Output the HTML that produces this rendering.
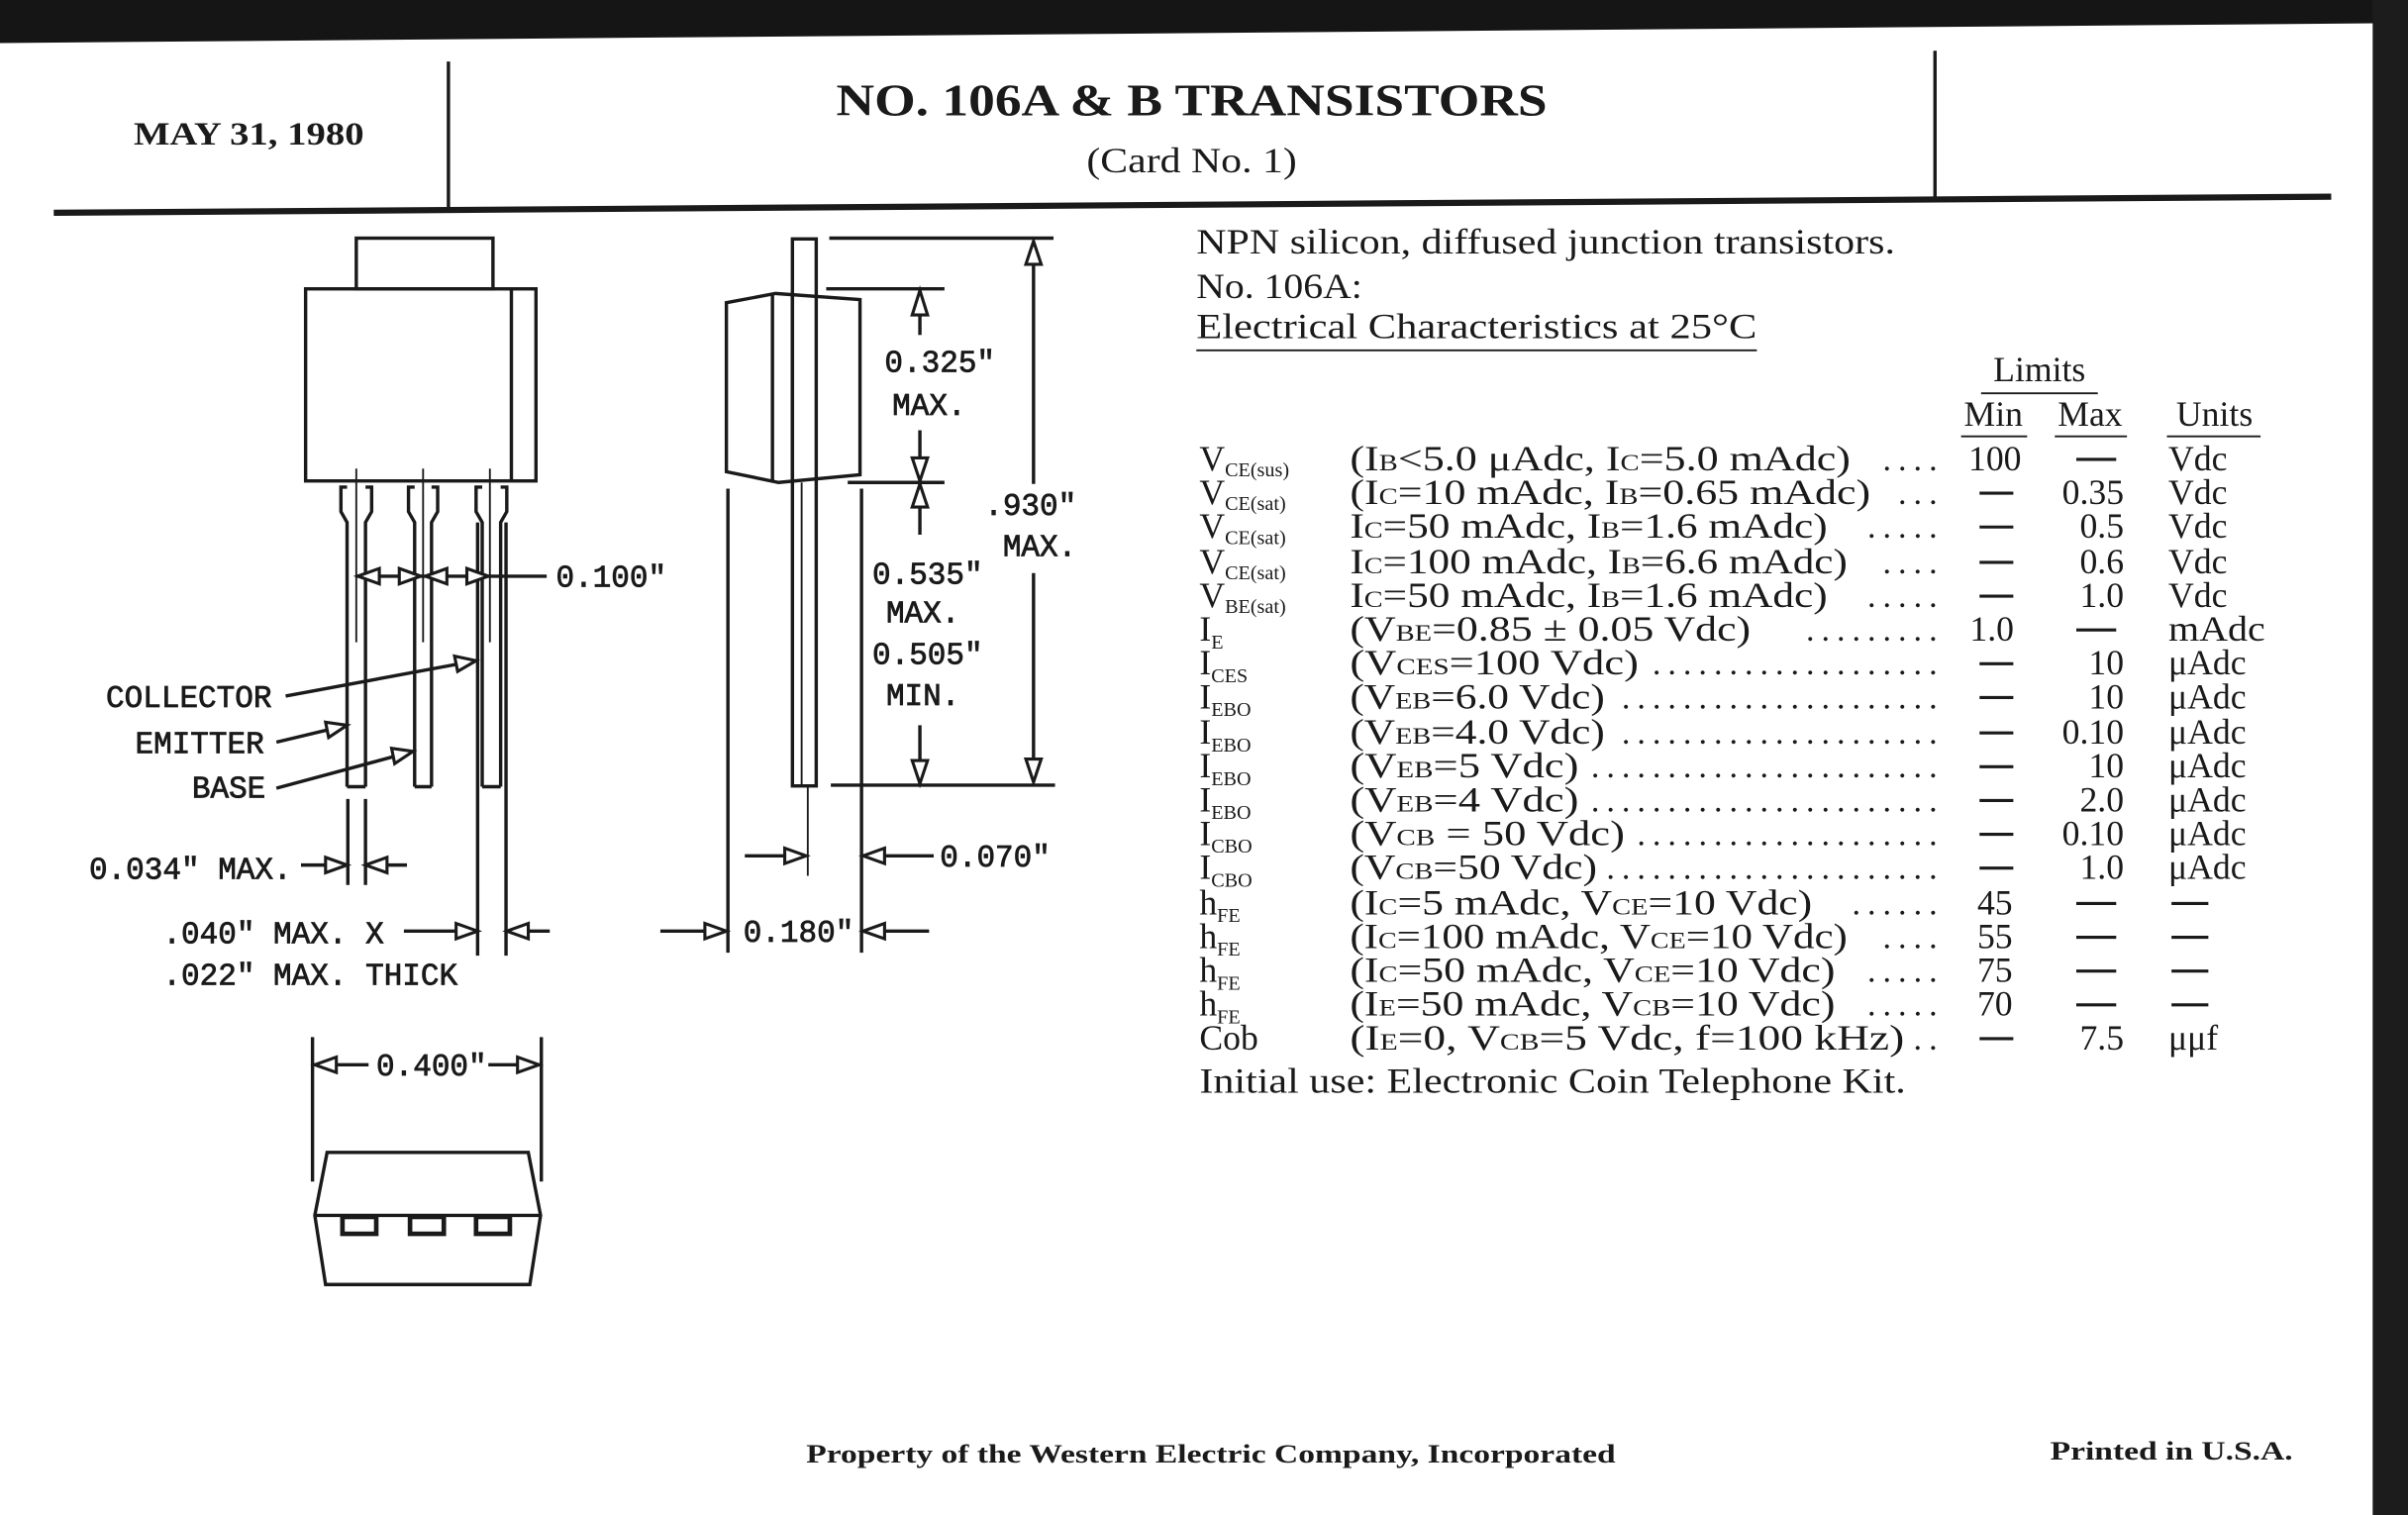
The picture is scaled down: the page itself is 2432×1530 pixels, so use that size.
<!DOCTYPE html>
<html><head><meta charset="utf-8"><style>
html,body{margin:0;padding:0;background:#fff;}
svg{display:block;}
.t{font-family:"Liberation Serif",serif;font-size:23px;fill:#1a1a1a;}
.s{font-size:13px;}
.sc{font-size:15px;}
.d{font-family:"Liberation Serif",serif;font-size:22px;letter-spacing:4.5px;fill:#1a1a1a;}
.m{font-family:"Liberation Mono",monospace;font-size:20px;fill:#1a1a1a;stroke:#1a1a1a;stroke-width:0.5;}
.b{font-family:"Liberation Serif",serif;font-weight:bold;fill:#1a1a1a;}
.ln{stroke:#1a1a1a;stroke-width:2.2;fill:none;}
.th{stroke:#1a1a1a;stroke-width:1.2;fill:none;}
.ar{fill:#fff;stroke:#1a1a1a;stroke-width:2;}
</style></head><body>
<svg width="2432" height="1530" viewBox="0 0 1568 986" preserveAspectRatio="none" xmlns="http://www.w3.org/2000/svg">
<rect width="1568" height="986" fill="#fff"/>
<polygon points="0,0 1568,0 1568,15 0,28" fill="#151515"/>
<rect x="1545" y="0" width="23" height="986" fill="#1c1c1c"/>
<line x1="292" y1="40" x2="292" y2="136" class="ln"/>
<line x1="1260" y1="33" x2="1260" y2="128" class="ln"/>
<line x1="35" y1="138.5" x2="1518" y2="128" stroke="#1a1a1a" stroke-width="4"/>
<text x="162" y="94" class="b" font-size="21" text-anchor="middle" textLength="150" lengthAdjust="spacingAndGlyphs">MAY 31, 1980</text>
<text x="776" y="75" class="b" font-size="29" text-anchor="middle" textLength="463" lengthAdjust="spacingAndGlyphs">NO. 106A &amp; B TRANSISTORS</text>
<text x="776" y="112" class="t" font-size="21" text-anchor="middle" textLength="137" lengthAdjust="spacingAndGlyphs">(Card No. 1)</text>

<rect x="232" y="155" width="89" height="33" class="ln"/>
<rect x="199" y="188" width="150" height="125" class="ln"/>
<line x1="333" y1="188" x2="333" y2="313" class="ln"/>
<path d="M226,512 V340 L222,333 V317 H226 M238,512 V340 L242,333 V317 H238 M226,512 H238" class="ln"/>
<line x1="232" y1="305" x2="232" y2="418" class="th"/>
<path d="M270,512 V340 L266,333 V317 H270 M281,512 V340 L285,333 V317 H281 M270,512 H281" class="ln"/>
<line x1="275.5" y1="305" x2="275.5" y2="418" class="th"/>
<path d="M314,512 V340 L310,333 V317 H314 M326,512 V340 L330,333 V317 H326 M314,512 H326" class="ln"/>
<line x1="319" y1="305" x2="319" y2="418" class="th"/>
<line x1="311" y1="340" x2="311" y2="622" class="ln"/>
<line x1="329.5" y1="340" x2="329.5" y2="622" class="ln"/>
<line x1="232" y1="375" x2="356" y2="375" class="ln"/>
<polygon points="233,375 247,370 247,380" class="ar"/>
<polygon points="274,375 260,370 260,380" class="ar"/>
<polygon points="277,375 291,370 291,380" class="ar"/>
<polygon points="318,375 304,370 304,380" class="ar"/>
<text x="362" y="382" class="m">0.100"</text>
<text x="69" y="460" class="m">COLLECTOR</text>
<text x="88" y="490" class="m">EMITTER</text>
<text x="125" y="519" class="m">BASE</text>
<line x1="186" y1="453" x2="310" y2="430" class="ln"/>
<polygon points="310,430 296,427 298,437" class="ar"/>
<line x1="180" y1="483" x2="226" y2="472" class="ln"/>
<polygon points="226,472 212,470 214,480" class="ar"/>
<line x1="180" y1="513" x2="269" y2="489" class="ln"/>
<polygon points="269,489 255,487 257,497" class="ar"/>
<line x1="226.5" y1="520" x2="226.5" y2="576" class="ln"/>
<line x1="238" y1="520" x2="238" y2="576" class="ln"/>
<text x="58" y="572" class="m">0.034" MAX.</text>
<line x1="196" y1="563" x2="226" y2="563" class="ln"/>
<polygon points="226,563 212,558 212,568" class="ar"/>
<line x1="238" y1="563" x2="265" y2="563" class="ln"/>
<polygon points="238,563 252,558 252,568" class="ar"/>
<text x="106" y="614" class="m">.040" MAX. X</text>
<text x="106" y="641" class="m">.022" MAX. THICK</text>
<line x1="263" y1="606" x2="311" y2="606" class="ln"/>
<polygon points="311,606 297,601 297,611" class="ar"/>
<line x1="329.5" y1="606" x2="358" y2="606" class="ln"/>
<polygon points="330,606 344,601 344,611" class="ar"/>
<line x1="203.5" y1="675" x2="203.5" y2="769" class="ln"/>
<line x1="352.5" y1="675" x2="352.5" y2="769" class="ln"/>
<line x1="204" y1="693" x2="240" y2="693" class="ln"/>
<line x1="318" y1="693" x2="352" y2="693" class="ln"/>
<polygon points="205,693 219,688 219,698" class="ar"/>
<polygon points="351,693 337,688 337,698" class="ar"/>
<text x="245" y="700" class="m">0.400"</text>
<polygon points="213,750 344,750 352,791 345,836 212,836 205,791" class="ln"/>
<line x1="205" y1="791" x2="352" y2="791" class="ln"/>
<rect x="223" y="792" width="22" height="11" fill="none" stroke="#1a1a1a" stroke-width="3"/>
<rect x="267" y="792" width="22" height="11" fill="none" stroke="#1a1a1a" stroke-width="3"/>
<rect x="310" y="792" width="22" height="11" fill="none" stroke="#1a1a1a" stroke-width="3"/>

<rect x="516" y="155.5" width="15.5" height="356" class="ln" fill="#fff"/>
<polygon points="473,197 505,191 560,195 560,309 507,314 473,307" class="ln" fill="#fff"/>
<line x1="503" y1="192" x2="503" y2="313" class="ln"/>
<line x1="516" y1="192" x2="516" y2="313" class="ln"/>
<line x1="522" y1="314" x2="522" y2="511" class="th"/>
<line x1="526" y1="511" x2="526" y2="570" class="th"/>
<line x1="540" y1="155" x2="686" y2="155" class="ln"/>
<line x1="538" y1="188" x2="615" y2="188" class="ln"/>
<line x1="552" y1="314" x2="615" y2="314" class="ln"/>
<line x1="541" y1="511" x2="687" y2="511" class="ln"/>
<line x1="599" y1="189" x2="599" y2="218" class="ln"/>
<polygon points="599,189 594,205 604,205" class="ar"/>
<text x="612" y="242" class="m" text-anchor="middle">0.325"</text>
<text x="605" y="270" class="m" text-anchor="middle">MAX.</text>
<line x1="599" y1="280" x2="599" y2="348" class="ln"/>
<polygon points="599,313 594,298 604,298" class="ar"/>
<polygon points="599,315 594,330 604,330" class="ar"/>
<text x="604" y="380" class="m" text-anchor="middle">0.535"</text>
<text x="601" y="405" class="m" text-anchor="middle">MAX.</text>
<text x="604" y="432" class="m" text-anchor="middle">0.505"</text>
<text x="601" y="459" class="m" text-anchor="middle">MIN.</text>
<line x1="599" y1="472" x2="599" y2="510" class="ln"/>
<polygon points="599,510 594,495 604,495" class="ar"/>
<line x1="673" y1="157" x2="673" y2="315" class="ln"/>
<line x1="673" y1="373" x2="673" y2="509" class="ln"/>
<polygon points="673,157 668,172 678,172" class="ar"/>
<polygon points="673,509 668,494 678,494" class="ar"/>
<text x="671" y="335" class="m" text-anchor="middle">.930"</text>
<text x="677" y="362" class="m" text-anchor="middle">MAX.</text>
<line x1="474" y1="318" x2="474" y2="620" class="ln"/>
<line x1="561" y1="318" x2="561" y2="620" class="ln"/>
<line x1="485" y1="557" x2="525" y2="557" class="ln"/>
<polygon points="525,557 511,552 511,562" class="ar"/>
<line x1="562" y1="557" x2="608" y2="557" class="ln"/>
<polygon points="562,557 576,552 576,562" class="ar"/>
<text x="612" y="564" class="m">0.070"</text>
<line x1="430" y1="606" x2="473" y2="606" class="ln"/>
<polygon points="473,606 459,601 459,611" class="ar"/>
<line x1="562" y1="606" x2="605" y2="606" class="ln"/>
<polygon points="562,606 576,601 576,611" class="ar"/>
<text x="484" y="613" class="m">0.180"</text>

<text x="779" y="165" class="t" textLength="455" lengthAdjust="spacingAndGlyphs">NPN silicon, diffused junction transistors.</text>
<text x="779" y="194" class="t" textLength="108" lengthAdjust="spacingAndGlyphs">No. 106A:</text>
<text x="779" y="220" class="t" textLength="365" lengthAdjust="spacingAndGlyphs">Electrical Characteristics at 25°C</text>
<line x1="779" y1="228" x2="1144" y2="228" class="th" stroke-width="1.6"/>
<text x="1328" y="248" class="t" text-anchor="middle">Limits</text>
<line x1="1290" y1="256" x2="1366" y2="256" class="th" stroke-width="1.6"/>
<text x="1298" y="277" class="t" text-anchor="middle">Min</text>
<text x="1361" y="277" class="t" text-anchor="middle">Max</text>
<text x="1442" y="277" class="t" text-anchor="middle">Units</text>
<line x1="1277" y1="284" x2="1320" y2="284" class="th" stroke-width="1.6"/>
<line x1="1338" y1="284" x2="1385" y2="284" class="th" stroke-width="1.6"/>
<line x1="1411" y1="284" x2="1472" y2="284" class="th" stroke-width="1.6"/>

<g class="t">
<text x="781" y="306">V<tspan class="s" dy="4">CE(sus)</tspan></text>
<text x="781" y="328">V<tspan class="s" dy="4">CE(sat)</tspan></text>
<text x="781" y="350">V<tspan class="s" dy="4">CE(sat)</tspan></text>
<text x="781" y="373">V<tspan class="s" dy="4">CE(sat)</tspan></text>
<text x="781" y="395">V<tspan class="s" dy="4">BE(sat)</tspan></text>
<text x="781" y="417">I<tspan class="s" dy="5">E</tspan></text>
<text x="781" y="439">I<tspan class="s" dy="5">CES</tspan></text>
<text x="781" y="461">I<tspan class="s" dy="5">EBO</tspan></text>
<text x="781" y="484">I<tspan class="s" dy="5">EBO</tspan></text>
<text x="781" y="506">I<tspan class="s" dy="5">EBO</tspan></text>
<text x="781" y="528">I<tspan class="s" dy="5">EBO</tspan></text>
<text x="781" y="550">I<tspan class="s" dy="5">CBO</tspan></text>
<text x="781" y="572">I<tspan class="s" dy="5">CBO</tspan></text>
<text x="781" y="595">h<tspan class="s" dy="5">FE</tspan></text>
<text x="781" y="617">h<tspan class="s" dy="5">FE</tspan></text>
<text x="781" y="639">h<tspan class="s" dy="5">FE</tspan></text>
<text x="781" y="661">h<tspan class="s" dy="5">FE</tspan></text>
<text x="781" y="683">Cob</text>
</g>
<g class="t">
<text x="879" y="306" textLength="326" lengthAdjust="spacingAndGlyphs">(I<tspan class="sc">B</tspan>&lt;5.0 μAdc, I<tspan class="sc">C</tspan>=5.0 mAdc)</text>
<text x="879" y="328" textLength="339" lengthAdjust="spacingAndGlyphs">(I<tspan class="sc">C</tspan>=10 mAdc, I<tspan class="sc">B</tspan>=0.65 mAdc)</text>
<text x="879" y="350" textLength="311" lengthAdjust="spacingAndGlyphs">I<tspan class="sc">C</tspan>=50 mAdc, I<tspan class="sc">B</tspan>=1.6 mAdc)</text>
<text x="879" y="373" textLength="324" lengthAdjust="spacingAndGlyphs">I<tspan class="sc">C</tspan>=100 mAdc, I<tspan class="sc">B</tspan>=6.6 mAdc)</text>
<text x="879" y="395" textLength="311" lengthAdjust="spacingAndGlyphs">I<tspan class="sc">C</tspan>=50 mAdc, I<tspan class="sc">B</tspan>=1.6 mAdc)</text>
<text x="879" y="417" textLength="261" lengthAdjust="spacingAndGlyphs">(V<tspan class="sc">BE</tspan>=0.85 ± 0.05 Vdc)</text>
<text x="879" y="439" textLength="188" lengthAdjust="spacingAndGlyphs">(V<tspan class="sc">CES</tspan>=100 Vdc)</text>
<text x="879" y="461" textLength="166" lengthAdjust="spacingAndGlyphs">(V<tspan class="sc">EB</tspan>=6.0 Vdc)</text>
<text x="879" y="484" textLength="166" lengthAdjust="spacingAndGlyphs">(V<tspan class="sc">EB</tspan>=4.0 Vdc)</text>
<text x="879" y="506" textLength="149" lengthAdjust="spacingAndGlyphs">(V<tspan class="sc">EB</tspan>=5  Vdc)</text>
<text x="879" y="528" textLength="149" lengthAdjust="spacingAndGlyphs">(V<tspan class="sc">EB</tspan>=4  Vdc)</text>
<text x="879" y="550" textLength="179" lengthAdjust="spacingAndGlyphs">(V<tspan class="sc">CB</tspan> = 50 Vdc)</text>
<text x="879" y="572" textLength="161" lengthAdjust="spacingAndGlyphs">(V<tspan class="sc">CB</tspan>=50  Vdc)</text>
<text x="879" y="595" textLength="301" lengthAdjust="spacingAndGlyphs">(I<tspan class="sc">C</tspan>=5 mAdc, V<tspan class="sc">CE</tspan>=10 Vdc)</text>
<text x="879" y="617" textLength="324" lengthAdjust="spacingAndGlyphs">(I<tspan class="sc">C</tspan>=100 mAdc, V<tspan class="sc">CE</tspan>=10 Vdc)</text>
<text x="879" y="639" textLength="316" lengthAdjust="spacingAndGlyphs">(I<tspan class="sc">C</tspan>=50 mAdc, V<tspan class="sc">CE</tspan>=10 Vdc)</text>
<text x="879" y="661" textLength="316" lengthAdjust="spacingAndGlyphs">(I<tspan class="sc">E</tspan>=50 mAdc, V<tspan class="sc">CB</tspan>=10 Vdc)</text>
<text x="879" y="683" textLength="361" lengthAdjust="spacingAndGlyphs">(I<tspan class="sc">E</tspan>=0, V<tspan class="sc">CB</tspan>=5 Vdc, f=100 kHz)</text>
</g>
<g class="d" text-anchor="end">
<text x="1266" y="306">....</text>
<text x="1266" y="328">...</text>
<text x="1266" y="350">.....</text>
<text x="1266" y="373">....</text>
<text x="1266" y="395">.....</text>
<text x="1266" y="417">.........</text>
<text x="1266" y="439">...................</text>
<text x="1266" y="461">.....................</text>
<text x="1266" y="484">.....................</text>
<text x="1266" y="506">.......................</text>
<text x="1266" y="528">.......................</text>
<text x="1266" y="550">....................</text>
<text x="1266" y="572">......................</text>
<text x="1266" y="595">......</text>
<text x="1266" y="617">....</text>
<text x="1266" y="639">.....</text>
<text x="1266" y="661">.....</text>
<text x="1266" y="683">..</text>
</g>
<g class="t" text-anchor="middle">
<text x="1299" y="306">100</text>
<text x="1297" y="417">1.0</text>
<text x="1299" y="595">45</text>
<text x="1299" y="617">55</text>
<text x="1299" y="639">75</text>
<text x="1299" y="661">70</text>
</g>
<g stroke="#1a1a1a" stroke-width="2">
<line x1="1289" y1="321" x2="1311" y2="321"/>
<line x1="1289" y1="343" x2="1311" y2="343"/>
<line x1="1289" y1="366" x2="1311" y2="366"/>
<line x1="1289" y1="388" x2="1311" y2="388"/>
<line x1="1289" y1="432" x2="1311" y2="432"/>
<line x1="1289" y1="454" x2="1311" y2="454"/>
<line x1="1289" y1="477" x2="1311" y2="477"/>
<line x1="1289" y1="499" x2="1311" y2="499"/>
<line x1="1289" y1="521" x2="1311" y2="521"/>
<line x1="1289" y1="543" x2="1311" y2="543"/>
<line x1="1289" y1="565" x2="1311" y2="565"/>
<line x1="1289" y1="676" x2="1311" y2="676"/>
<line x1="1352" y1="299" x2="1378" y2="299"/>
<line x1="1352" y1="410" x2="1378" y2="410"/>
<line x1="1352" y1="588" x2="1378" y2="588"/>
<line x1="1352" y1="610" x2="1378" y2="610"/>
<line x1="1352" y1="632" x2="1378" y2="632"/>
<line x1="1352" y1="654" x2="1378" y2="654"/>
<line x1="1414" y1="588" x2="1438" y2="588"/>
<line x1="1414" y1="610" x2="1438" y2="610"/>
<line x1="1414" y1="632" x2="1438" y2="632"/>
<line x1="1414" y1="654" x2="1438" y2="654"/>
</g>
<g class="t" text-anchor="end">
<text x="1383" y="328">0.35</text>
<text x="1383" y="350">0.5</text>
<text x="1383" y="373">0.6</text>
<text x="1383" y="395">1.0</text>
<text x="1383" y="439">10</text>
<text x="1383" y="461">10</text>
<text x="1383" y="484">0.10</text>
<text x="1383" y="506">10</text>
<text x="1383" y="528">2.0</text>
<text x="1383" y="550">0.10</text>
<text x="1383" y="572">1.0</text>
<text x="1383" y="683">7.5</text>
</g>
<g class="t">
<text x="1412" y="306">Vdc</text>
<text x="1412" y="328">Vdc</text>
<text x="1412" y="350">Vdc</text>
<text x="1412" y="373">Vdc</text>
<text x="1412" y="395">Vdc</text>
<text x="1412" y="417" textLength="63" lengthAdjust="spacingAndGlyphs">mAdc</text>
<text x="1412" y="439">μAdc</text>
<text x="1412" y="461">μAdc</text>
<text x="1412" y="484">μAdc</text>
<text x="1412" y="506">μAdc</text>
<text x="1412" y="528">μAdc</text>
<text x="1412" y="550">μAdc</text>
<text x="1412" y="572">μAdc</text>
<text x="1412" y="683">μμf</text>
</g>
<text x="781" y="711" class="t" textLength="460" lengthAdjust="spacingAndGlyphs">Initial use: Electronic Coin Telephone Kit.</text>

<text x="525" y="952" class="b" font-size="17" textLength="527" lengthAdjust="spacingAndGlyphs">Property of the Western Electric Company, Incorporated</text>
<text x="1335" y="950" class="b" font-size="17" textLength="158" lengthAdjust="spacingAndGlyphs">Printed in U.S.A.</text>
</svg>
</body></html>
